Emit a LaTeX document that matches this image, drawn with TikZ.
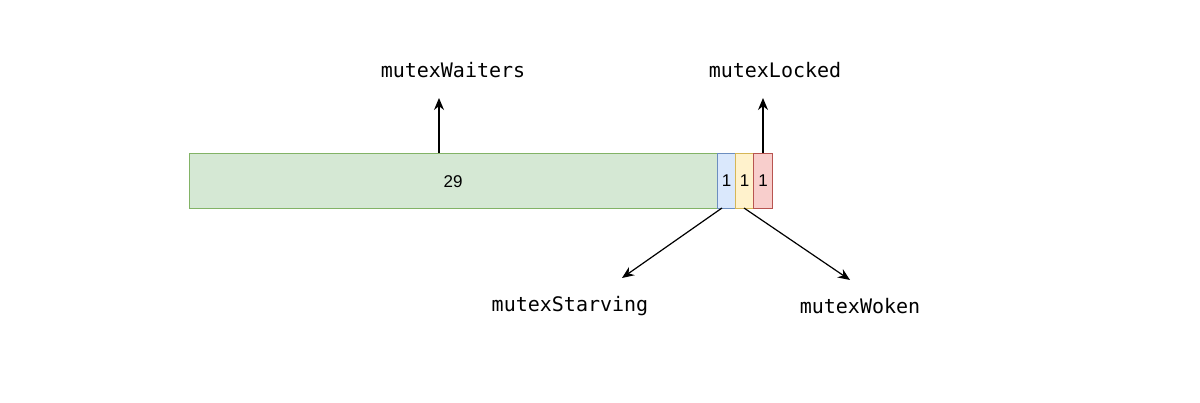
\documentclass[tikz,border=0pt]{standalone}
\usepackage{fontspec}
\setmainfont{Liberation Sans}
\setmonofont{DejaVu Sans Mono}
\usetikzlibrary{arrows.meta}
\definecolor{gf}{HTML}{D5E8D4}\definecolor{gs}{HTML}{82B366}
\definecolor{bf}{HTML}{DAE8FC}\definecolor{bs}{HTML}{6C8EBF}
\definecolor{yf}{HTML}{FFF2CC}\definecolor{ys}{HTML}{D6B656}
\definecolor{rf}{HTML}{F8CECC}\definecolor{rs}{HTML}{B85450}
\begin{document}
\begin{tikzpicture}[x=1pt,y=-1pt,
  cell/.style={draw=#1,line width=1pt,inner sep=0pt,anchor=north west},
  lbl/.style={font=\ttfamily\fontsize{20}{24}\selectfont,inner sep=0pt},
  num/.style={font=\fontsize{17}{20}\selectfont},
  arr/.style={-{Stealth[length=12pt,width=10pt]},line width=1.2pt}]
\useasboundingbox (0,0) rectangle (1200,403);
\node[cell=gs,fill=gf,minimum width=528pt,minimum height=55pt] (g) at (189,153) {};
\node[cell=bs,fill=bf,minimum width=18pt,minimum height=55pt] (b) at (717,153) {};
\node[cell=ys,fill=yf,minimum width=18pt,minimum height=55pt] (y) at (735,153) {};
\node[cell=rs,fill=rf,minimum width=19pt,minimum height=55pt] (r) at (753,153) {};
\node[num] at (453,182) {29};
\node[num] at (b.center) {1};
\node[num] at (y.center) {1};
\node[num] at (r.center) {1};
\node[lbl] (w) at (453,70) {mutexWaiters};
\node[lbl] (l) at (775,70) {mutexLocked};
\node[lbl] (s) at (570,306) {mutexStarving};
\node[lbl] (k) at (860,306) {mutexWoken};
\coordinate (wa) at (439,153); \coordinate (wt) at (439,98);
\coordinate (la) at (763,153); \coordinate (lt) at (763,98);
\coordinate (sa) at (722,208); \coordinate (st) at (622,278);
\coordinate (ka) at (744,208); \coordinate (kt) at (850,280);
\draw[arr] (wa) -- (wt);
\draw[arr] (la) -- (lt);
\draw[arr] (sa) -- (st);
\draw[arr] (ka) -- (kt);
\end{tikzpicture}
\end{document}
